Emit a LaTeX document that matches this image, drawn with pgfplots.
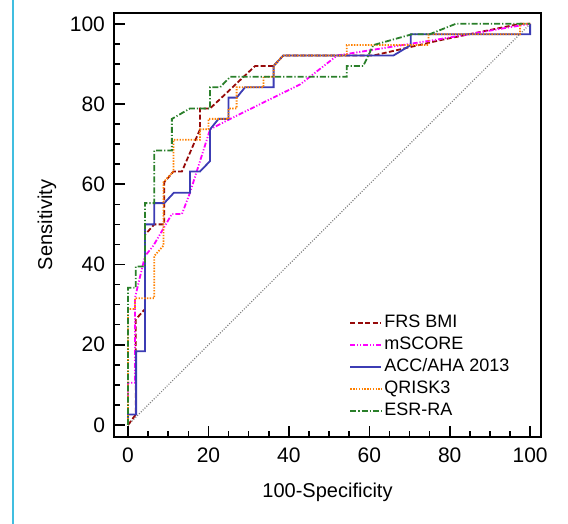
\documentclass[border=0pt]{standalone}
\usepackage{pgfplots}
\pgfplotsset{compat=1.18}
\usepackage{fontspec}
\setmainfont{Liberation Sans}

\definecolor{frs}{HTML}{960A0A}
\definecolor{msc}{HTML}{FF00FF}
\definecolor{acc}{HTML}{3C3CB4}
\definecolor{qri}{HTML}{FF8000}
\definecolor{esr}{HTML}{2A7F2A}
\definecolor{frame}{HTML}{40BEE0}

\begin{document}
\begin{tikzpicture}
\useasboundingbox (0,0) rectangle (284pt,262pt);
% left page rule of the source figure
\draw[frame, line width=1pt] (6.25pt,0) -- (6.25pt,262pt);

\begin{axis}[
  at={(57pt,43.5pt)}, anchor=south west,
  scale only axis,
  width=213.5pt, height=212pt,
  xmin=-3.5, xmax=102.7,
  ymin=-3, ymax=102.7,
  xtick={0,20,...,100}, ytick={0,20,...,100},
  minor tick num=3,
  tick align=inside,
  xtick pos=bottom, ytick pos=left,
  major tick length=5.5pt, minor tick length=3pt,
  axis line style={line width=1pt},
  every tick/.style={black, line width=0.8pt},
  /pgf/number format/assume math mode=true,
  ticklabel style={font=\fontsize{10.5}{12}\selectfont},
  xticklabel style={yshift=-2pt},
  yticklabel style={xshift=-1pt},
  label style={font=\fontsize{10}{12}\selectfont},
  xlabel={100-Specificity},
  xlabel style={yshift=-3pt},
  ylabel={Sensitivity},
  legend style={at={(axis cs:53.5,29.3)}, anchor=north west,
    draw=none, fill=none, font=\fontsize{9}{10}\selectfont,
    nodes={inner sep=1pt, text height=0.7em, text depth=0.2em}},
  legend cell align=left,
  legend image code/.code={\draw[#1] (0pt,0pt) -- (15.5pt,0pt);},
  every axis plot/.append style={line width=0.9pt},
]

\addplot[gray, line width=0.6pt, dash pattern=on 0.5pt off 0.8pt, forget plot]
  coordinates {(0,0) (100,100)};

\addplot[frs, dash pattern=on 2.5pt off 1.2pt] coordinates {
 (0,0) (1.9,2.6) (1.9,26.3) (4.2,28.9) (4.2,47.4) (6.5,50) (9,50)
 (9,60.5) (11.3,63.2) (13.4,63.2) (17.9,73.7) (17.9,78.9) (20.4,78.9)
 (31.6,89.5) (36.2,89.5) (38.6,92.1) (61,92.1) (78,96) (97.5,100) (100,100)
};
\addlegendentry{FRS BMI}

\addplot[msc, dash pattern=on 2.5pt off 0.9pt on 0.6pt off 0.9pt on 0.6pt off 0.9pt] coordinates {
 (0,0) (0,10.5) (1.7,10.5) (1.7,31.6) (4.2,42.1) (6.3,44.7) (10.9,52.6)
 (13.4,52.6) (15.4,57.9) (20.4,73.7) (25.4,76.3) (42.8,84.9) (52,92.1)
 (77.6,96.2) (100,100)
};
\addlegendentry{mSCORE}

\addplot[acc] coordinates {
 (0,0) (0,2.6) (2,2.6) (2,18.4) (4.2,18.4) (4.2,50) (6.5,50) (6.5,55.3)
 (9,55.3) (11.4,57.9) (15.4,57.9) (15.4,63.2) (17.9,63.2) (20.4,65.8)
 (20.4,73.7) (22.5,76.3) (25,76.3) (25,81.6) (27,81.6) (29.1,84.2)
 (36.2,84.2) (36.2,89.5) (38.6,92.1) (66,92.1) (70.3,94.7) (70.3,97.4)
 (100,97.4) (100,100)
};
\addlegendentry{ACC/AHA 2013}

\addplot[qri, dash pattern=on 0.7pt off 0.7pt] coordinates {
 (0,0) (0,28.9) (1.7,28.9) (1.7,31.6) (6.5,31.6) (6.5,42.1) (8.8,44.7)
 (8.8,60.5) (11.3,63.2) (11.3,71.1) (17.9,71.1) (17.9,73.7) (20,73.7)
 (20,76.3) (25,76.3) (25,78.9) (27,78.9) (27,84.2) (33.7,84.2)
 (33.7,86.8) (36.2,86.8) (36.2,89.5) (38.6,92.1) (54.4,92.1)
 (54.4,94.7) (74.7,94.7) (74.7,97.4) (97.5,97.4) (97.5,100) (100,100)
};
\addlegendentry{QRISK3}

\addplot[esr, dash pattern=on 3pt off 1pt on 0.6pt off 1pt] coordinates {
 (0,0) (0,34.2) (1.9,34.2) (1.9,39.5) (4.2,39.5) (4.2,55.3) (6.5,55.3)
 (6.5,68.4) (10.9,68.4) (10.9,76.3) (15.4,78.9) (20.4,78.9) (20.4,84.2)
 (22.9,84.2) (25.4,86.8) (54.4,86.8) (54.4,89.5) (58.5,89.5) (61,94.7)
 (70.6,97.4) (75,97.4) (81.5,100) (100,100)
};
\addlegendentry{ESR-RA}

\end{axis}
\end{tikzpicture}
\end{document}
